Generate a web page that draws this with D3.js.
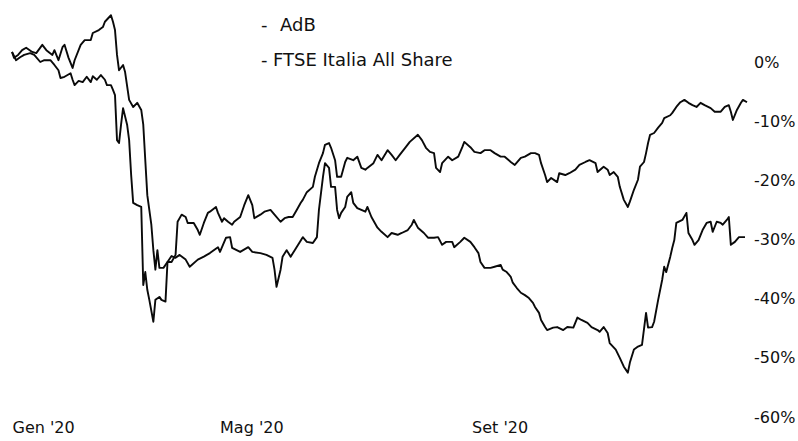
<!DOCTYPE html>
<html>
<head>
<meta charset="utf-8">
<script src="https://cdn.jsdelivr.net/npm/d3@7"></script>
<style>
  html, body { margin: 0; padding: 0; background: #fff; }
  svg { display: block; }
  text { font-family: "DejaVu Sans", sans-serif; fill: #111; }
</style>
</head>
<body>
<svg id="chart" width="798" height="441"></svg>
<script>
// ---- Data (cumulative % performance since start of 2020) ----
const ftseDates = ["2020-01-02","2020-01-03","2020-01-05","2020-01-07","2020-01-09","2020-01-12","2020-01-14","2020-01-17","2020-01-19","2020-01-22","2020-01-23","2020-01-25","2020-01-27","2020-01-28","2020-01-30","2020-02-01","2020-02-02","2020-02-05","2020-02-07","2020-02-10","2020-02-11","2020-02-14","2020-02-16","2020-02-17","2020-02-20","2020-02-21","2020-02-22","2020-02-23","2020-02-24","2020-02-26","2020-02-27","2020-02-29","2020-03-02","2020-03-04","2020-03-06","2020-03-07","2020-03-08","2020-03-09","2020-03-11","2020-03-12","2020-03-13","2020-03-14","2020-03-15","2020-03-17","2020-03-19","2020-03-21","2020-03-23","2020-03-24","2020-03-26","2020-03-28","2020-03-29","2020-04-01","2020-04-03","2020-04-04","2020-04-06","2020-04-08","2020-04-09","2020-04-12","2020-04-13","2020-04-15","2020-04-16","2020-04-18","2020-04-20","2020-04-21","2020-04-24","2020-04-26","2020-04-28","2020-04-30","2020-05-01","2020-05-04","2020-05-06","2020-05-09","2020-05-11","2020-05-14","2020-05-16","2020-05-18","2020-05-20","2020-05-22","2020-05-24","2020-05-25","2020-05-27","2020-05-30","2020-05-31","2020-06-02","2020-06-04","2020-06-05","2020-06-07","2020-06-08","2020-06-10","2020-06-11","2020-06-13","2020-06-15","2020-06-16","2020-06-19","2020-06-21","2020-06-23","2020-06-25","2020-06-26","2020-06-29","2020-07-01","2020-07-03","2020-07-06","2020-07-08","2020-07-10","2020-07-12","2020-07-15","2020-07-17","2020-07-21","2020-07-23","2020-07-25","2020-07-27","2020-07-29","2020-07-30","2020-08-01","2020-08-02","2020-08-05","2020-08-07","2020-08-10","2020-08-12","2020-08-13","2020-08-16","2020-08-18","2020-08-21","2020-08-23","2020-08-26","2020-08-28","2020-08-31","2020-09-02","2020-09-05","2020-09-07","2020-09-10","2020-09-12","2020-09-15","2020-09-17","2020-09-19","2020-09-20","2020-09-22","2020-09-23","2020-09-25","2020-09-28","2020-09-29","2020-10-02","2020-10-04","2020-10-07","2020-10-09","2020-10-12","2020-10-14","2020-10-17","2020-10-18","2020-10-21","2020-10-23","2020-10-24","2020-10-26","2020-10-28","2020-10-29","2020-10-31","2020-11-02","2020-11-03","2020-11-05","2020-11-07","2020-11-08","2020-11-10","2020-11-11","2020-11-12","2020-11-13","2020-11-15","2020-11-17","2020-11-19","2020-11-20","2020-11-23","2020-11-24","2020-11-26","2020-11-28","2020-11-30","2020-12-02","2020-12-04","2020-12-06","2020-12-08","2020-12-10","2020-12-13","2020-12-15","2020-12-18","2020-12-20","2020-12-22","2020-12-23","2020-12-24","2020-12-26","2020-12-28","2020-12-29","2020-12-31"];
const ftseValues = [1.7,0.7,1.2,2.0,2.4,1.7,1.5,2.9,2.0,1.2,2.0,0.3,2.5,2.9,0.7,-1.0,0.3,2.9,3.7,3.7,4.9,5.4,5.9,6.8,7.9,6.8,5.4,1.2,-1.4,-0.5,-1.7,-6.4,-7.6,-6.9,-8.1,-10.6,-16.6,-22.5,-27.5,-31.8,-35.1,-31.8,-34.8,-34.8,-33.8,-33.8,-32.6,-27.0,-25.8,-26.2,-27.2,-27.2,-28.4,-29.2,-27.2,-25.5,-25.3,-24.5,-25.5,-27.0,-26.4,-27.0,-27.5,-27.0,-26.2,-24.2,-22.5,-24.2,-26.4,-25.8,-25.3,-25.0,-25.8,-27.0,-26.4,-26.2,-26.2,-25.0,-23.8,-23.3,-22.0,-21.1,-19.4,-17.1,-15.4,-14.0,-13.7,-14.5,-16.6,-19.4,-19.4,-16.9,-16.2,-16.6,-16.0,-17.9,-18.2,-17.9,-17.1,-15.7,-16.6,-14.9,-15.7,-16.6,-15.7,-14.4,-13.5,-12.3,-13.2,-14.5,-15.2,-15.4,-17.9,-18.6,-17.1,-16.0,-16.6,-16.0,-14.4,-13.5,-14.4,-15.2,-15.4,-14.9,-14.9,-15.4,-16.0,-16.0,-16.9,-17.4,-16.2,-16.0,-15.4,-15.4,-15.7,-17.1,-19.1,-20.3,-19.6,-20.3,-18.8,-19.1,-18.8,-18.2,-17.4,-16.9,-16.6,-17.1,-18.6,-17.7,-18.2,-19.1,-18.6,-19.4,-21.1,-23.3,-24.5,-23.6,-21.6,-19.9,-17.7,-16.9,-15.4,-13.7,-12.3,-12.0,-11.1,-10.3,-9.5,-9.0,-8.6,-7.6,-6.8,-6.4,-6.9,-7.3,-7.6,-6.9,-7.3,-7.8,-8.4,-8.4,-7.6,-7.3,-8.4,-9.8,-8.1,-6.9,-6.4,-6.8];

const adbDates = ["2020-01-02","2020-01-04","2020-01-06","2020-01-08","2020-01-11","2020-01-13","2020-01-16","2020-01-18","2020-01-21","2020-01-23","2020-01-25","2020-01-26","2020-01-28","2020-01-31","2020-02-01","2020-02-02","2020-02-04","2020-02-06","2020-02-08","2020-02-10","2020-02-11","2020-02-13","2020-02-15","2020-02-17","2020-02-18","2020-02-20","2020-02-21","2020-02-22","2020-02-23","2020-02-24","2020-02-25","2020-02-26","2020-02-28","2020-02-29","2020-03-01","2020-03-02","2020-03-04","2020-03-06","2020-03-07","2020-03-08","2020-03-09","2020-03-10","2020-03-12","2020-03-13","2020-03-15","2020-03-16","2020-03-18","2020-03-19","2020-03-21","2020-03-23","2020-03-25","2020-03-28","2020-03-30","2020-04-03","2020-04-06","2020-04-09","2020-04-13","2020-04-14","2020-04-17","2020-04-19","2020-04-20","2020-04-24","2020-04-28","2020-04-30","2020-05-04","2020-05-07","2020-05-10","2020-05-11","2020-05-12","2020-05-14","2020-05-15","2020-05-17","2020-05-19","2020-05-21","2020-05-25","2020-05-27","2020-05-30","2020-06-01","2020-06-02","2020-06-04","2020-06-05","2020-06-07","2020-06-08","2020-06-10","2020-06-11","2020-06-12","2020-06-13","2020-06-15","2020-06-16","2020-06-18","2020-06-19","2020-06-21","2020-06-23","2020-06-25","2020-06-26","2020-06-28","2020-07-01","2020-07-03","2020-07-06","2020-07-08","2020-07-11","2020-07-13","2020-07-16","2020-07-18","2020-07-19","2020-07-21","2020-07-24","2020-07-26","2020-07-29","2020-07-31","2020-08-02","2020-08-04","2020-08-07","2020-08-08","2020-08-11","2020-08-13","2020-08-16","2020-08-18","2020-08-20","2020-08-21","2020-08-23","2020-08-26","2020-08-28","2020-08-31","2020-09-01","2020-09-03","2020-09-05","2020-09-06","2020-09-08","2020-09-10","2020-09-12","2020-09-14","2020-09-16","2020-09-17","2020-09-19","2020-09-20","2020-09-22","2020-09-23","2020-09-26","2020-09-28","2020-10-01","2020-10-03","2020-10-06","2020-10-08","2020-10-10","2020-10-13","2020-10-15","2020-10-18","2020-10-19","2020-10-21","2020-10-23","2020-10-24","2020-10-27","2020-10-29","2020-10-31","2020-11-02","2020-11-03","2020-11-05","2020-11-07","2020-11-09","2020-11-11","2020-11-12","2020-11-14","2020-11-15","2020-11-17","2020-11-19","2020-11-20","2020-11-21","2020-11-23","2020-11-24","2020-11-25","2020-11-26","2020-11-29","2020-12-01","2020-12-02","2020-12-04","2020-12-05","2020-12-07","2020-12-09","2020-12-11","2020-12-13","2020-12-14","2020-12-16","2020-12-18","2020-12-19","2020-12-21","2020-12-22","2020-12-23","2020-12-25","2020-12-27","2020-12-30"];
const adbValues = [1.7,0.3,0.8,1.2,1.5,1.2,0.0,0.3,0.3,-0.5,-1.4,-2.7,-2.5,-1.9,-3.0,-3.9,-3.2,-3.4,-2.5,-3.4,-2.4,-3.0,-2.2,-3.0,-3.9,-3.9,-4.7,-5.6,-13.2,-13.7,-10.6,-7.8,-10.6,-13.2,-19.1,-23.8,-24.2,-24.5,-37.7,-35.5,-38.5,-40.2,-43.9,-40.2,-39.7,-40.2,-40.5,-33.8,-32.8,-33.1,-32.6,-33.4,-34.6,-33.4,-32.9,-32.3,-31.3,-32.1,-29.7,-29.6,-31.4,-32.1,-31.3,-32.1,-32.3,-32.6,-33.1,-35.1,-38.0,-35.1,-32.9,-31.8,-32.9,-31.8,-29.6,-30.4,-30.6,-29.6,-25.0,-19.4,-17.1,-17.9,-21.1,-21.1,-25.0,-26.4,-25.5,-24.5,-22.8,-22.0,-23.8,-24.7,-25.0,-25.3,-24.5,-26.2,-28.0,-28.7,-29.6,-28.9,-29.2,-28.9,-28.4,-27.5,-26.7,-28.0,-28.9,-29.7,-29.7,-29.6,-30.9,-30.4,-30.4,-31.3,-30.4,-29.7,-30.4,-31.3,-32.3,-33.8,-34.8,-34.8,-34.6,-34.3,-35.1,-35.5,-36.3,-37.3,-38.2,-39.0,-39.4,-39.9,-40.7,-41.4,-42.4,-43.6,-44.8,-45.3,-44.9,-44.8,-45.3,-44.8,-44.9,-43.2,-43.6,-44.1,-44.8,-45.3,-45.6,-44.8,-45.8,-47.5,-48.6,-50.0,-51.5,-52.5,-50.8,-48.6,-48.1,-47.8,-42.4,-44.9,-44.8,-43.9,-40.2,-36.8,-34.6,-35.5,-32.9,-31.4,-30.1,-27.2,-26.7,-25.5,-28.9,-30.1,-30.9,-30.1,-28.4,-27.2,-27.0,-28.7,-27.0,-27.2,-27.5,-26.7,-26.2,-30.9,-30.4,-29.6,-29.6];

const seriesNames = ["AdB", "FTSE Italia All Share"];
const xTickDates = ["2020-01-01", "2020-05-01", "2020-09-01"];
const xTickLabels = ["Gen '20", "Mag '20", "Set '20"];
const yTickValues = [0, -10, -20, -30, -40, -50, -60];

// ---- Scales ----
const parse = d3.utcParse("%Y-%m-%d");
const svg = d3.select("#chart");

const x = d3.scaleUtc()
  .domain([parse("2020-01-01"), parse("2020-12-31")])
  .range([10, 747]);
const y = d3.scaleLinear()
  .domain([-60, 0])
  .range([417, 62]);

const line = d3.line()
  .x(d => x(d.date))
  .y(d => y(d.value));

const ftse = ftseDates.map((d, i) => ({ date: parse(d), value: ftseValues[i] }));
const adb = adbDates.map((d, i) => ({ date: parse(d), value: adbValues[i] }));

[adb, ftse].forEach(series => {
  svg.append("path")
    .datum(series)
    .attr("d", line)
    .attr("fill", "none")
    .attr("stroke", "#0a0a0a")
    .attr("stroke-width", 1.9)
    .attr("stroke-linejoin", "round");
});

// ---- Y axis (right, labels only) ----
const yAxis = d3.axisRight(y)
  .tickValues(yTickValues)
  .tickSize(0)
  .tickPadding(0)
  .tickFormat(d => d + "%");
const yg = svg.append("g")
  .attr("transform", "translate(754,0)")
  .call(yAxis);
yg.select(".domain").remove();
yg.selectAll("text")
  .attr("font-size", 16)
  .attr("font-family", "DejaVu Sans, sans-serif")
  .attr("fill", "#111");

// ---- X axis (labels only) ----
const xAxis = d3.axisBottom(x)
  .tickValues(xTickDates.map(parse))
  .tickSize(0)
  .tickPadding(0)
  .tickFormat((d, i) => xTickLabels[i]);
const xg = svg.append("g")
  .attr("transform", "translate(0,420)")
  .call(xAxis);
xg.select(".domain").remove();
xg.selectAll("text")
  .attr("font-size", 16)
  .attr("font-family", "DejaVu Sans, sans-serif")
  .attr("fill", "#111")
  .attr("dy", "0.8em")
  .attr("text-anchor", (d, i) => i === 0 ? "start" : "middle")
  .attr("x", (d, i) => i === 0 ? 2 : -3);

// ---- Legend ----
const legend = svg.append("g");
const legendRows = [
  { name: seriesNames[0], y: 31, textX: 280 },
  { name: seriesNames[1], y: 66, textX: 273 }
];
legendRows.forEach(r => {
  legend.append("text").attr("x", 261).attr("y", r.y)
    .attr("font-size", 18).text("-");
  legend.append("text").attr("x", r.textX).attr("y", r.y)
    .attr("font-size", 18).text(r.name);
});
</script>
</body>
</html>
